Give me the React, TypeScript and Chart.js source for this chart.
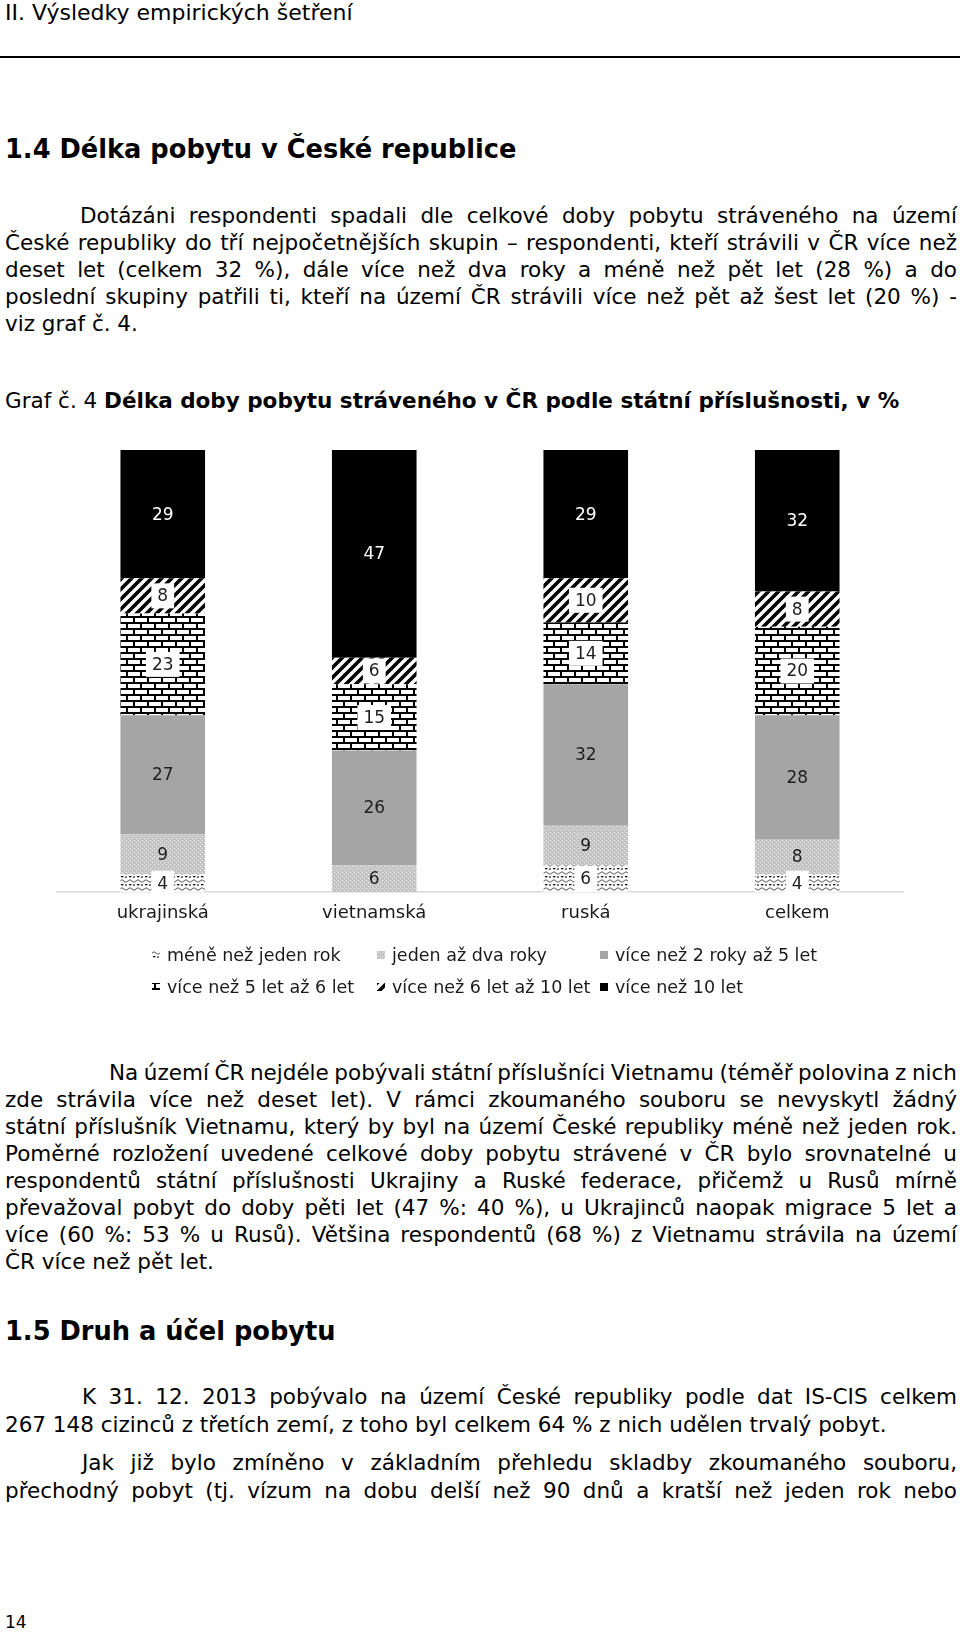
import React, { useEffect, useRef } from "react";
import { Chart, registerables } from "chart.js";
Chart.register(...registerables);

const categories = ["ukrajinská", "vietnamská", "ruská", "celkem"];
const seriesNames = [
  "méně než jeden rok",
  "jeden až dva roky",
  "více než 2 roky až 5 let",
  "více než 5 let až 6 let",
  "více než 6 let až 10 let",
  "více než 10 let",
];
const lessThanOneYear = [4, 0, 6, 4];
const oneToTwoYears = [9, 6, 9, 8];
const twoToFiveYears = [27, 26, 32, 28];
const fiveToSixYears = [23, 15, 14, 20];
const sixToTenYears = [8, 6, 10, 8];
const moreThanTenYears = [29, 47, 29, 32];
const seriesValues = [lessThanOneYear, oneToTwoYears, twoToFiveYears, fiveToSixYears, sixToTenYears, moreThanTenYears];
const boxedLabels = [true, false, false, true, true, false];

const FONT = "'DejaVu Sans', Verdana, sans-serif";
const BODY = 21.5;

function tile(w: number, h: number, draw: (c: CanvasRenderingContext2D) => void) {
  const c = document.createElement("canvas");
  c.width = w;
  c.height = h;
  const ctx = c.getContext("2d")!;
  draw(ctx);
  return c;
}

function makeFills(ctx: CanvasRenderingContext2D): (string | CanvasPattern)[] {
  const wave = tile(8, 8, (c) => {
    c.fillStyle = "#fff";
    c.fillRect(0, 0, 8, 8);
    c.strokeStyle = "#5a5a5a";
    c.lineWidth = 1;
    c.beginPath();
    c.moveTo(0, 3);
    c.quadraticCurveTo(2, 0.5, 4, 3);
    c.quadraticCurveTo(6, 5.5, 8, 3);
    c.stroke();
    c.fillStyle = "#111";
    c.fillRect(1, 6, 2.5, 1.3);
    c.fillRect(5, 6.5, 2, 1.1);
  });
  const dots = tile(4, 4, (c) => {
    c.fillStyle = "#c3c3c3";
    c.fillRect(0, 0, 4, 4);
    c.fillStyle = "#f4f4f4";
    c.fillRect(0, 0, 1, 1);
    c.fillRect(2, 2, 1, 1);
  });
  const brick = tile(14, 12, (c) => {
    c.fillStyle = "#fff";
    c.fillRect(0, 0, 14, 12);
    c.fillStyle = "#000";
    c.fillRect(0, 0, 14, 2);
    c.fillRect(0, 6, 14, 2);
    c.fillRect(0, 0, 2, 6);
    c.fillRect(7, 6, 2, 6);
  });
  const stripes = tile(10, 10, (c) => {
    c.fillStyle = "#fff";
    c.fillRect(0, 0, 10, 10);
    c.strokeStyle = "#000";
    c.lineWidth = 3.6;
    c.beginPath();
    c.moveTo(-2, 12);
    c.lineTo(12, -2);
    c.moveTo(-2, 2);
    c.lineTo(2, -2);
    c.moveTo(8, 12);
    c.lineTo(12, 8);
    c.stroke();
  });
  return [
    ctx.createPattern(wave, "repeat")!,
    ctx.createPattern(dots, "repeat")!,
    "#a5a5a5",
    ctx.createPattern(brick, "repeat")!,
    ctx.createPattern(stripes, "repeat")!,
    "#000000",
  ];
}

const labelPlugin = {
  id: "segLabels",
  afterDatasetsDraw(chart: any) {
    const ctx = chart.ctx as CanvasRenderingContext2D;
    ctx.save();
    ctx.font = `17px ${FONT}`;
    ctx.textAlign = "center";
    ctx.textBaseline = "middle";
    chart.data.datasets.forEach((ds: any, di: number) => {
      const meta = chart.getDatasetMeta(di);
      meta.data.forEach((bar: any, i: number) => {
        const v = ds.data[i];
        if (!v) return;
        const { x, y, base } = bar.getProps(["x", "y", "base"], true);
        const cy = (y + base) / 2;
        const text = String(v);
        if (boxedLabels[di]) {
          const w = ctx.measureText(text).width + 12;
          ctx.fillStyle = "#fff";
          ctx.fillRect(x - w / 2, cy - 12.5, w, 25);
        }
        ctx.fillStyle = di === 5 ? "#fff" : "#1e1e1e";
        ctx.fillText(text, x, cy + 1);
      });
    });
    ctx.restore();
  },
};

const legendCols = [152, 377, 600];
const legendRows = [525, 557];

const legendPlugin = {
  id: "gridLegend",
  afterDraw(chart: any) {
    const ctx = chart.ctx as CanvasRenderingContext2D;
    ctx.save();
    ctx.font = `17.5px ${FONT}`;
    ctx.textAlign = "left";
    ctx.textBaseline = "middle";
    chart.data.datasets.forEach((ds: any, di: number) => {
      const col = legendCols[di % 3];
      const row = legendRows[Math.floor(di / 3)];
      ctx.fillStyle = ds.backgroundColor;
      ctx.fillRect(col, row - 4, 8, 8);
      ctx.fillStyle = "#1a1a1a";
      ctx.fillText(ds.label, col + 15, row + 1);
    });
    ctx.restore();
  },
};

function StackedChart() {
  const ref = useRef<HTMLCanvasElement>(null);
  useEffect(() => {
    const canvas = ref.current!;
    const ctx = canvas.getContext("2d")!;
    const fills = makeFills(ctx);
    const chart = new Chart(canvas, {
      type: "bar",
      data: {
        labels: categories,
        datasets: seriesValues.map((vals, i) => ({
          label: seriesNames[i],
          data: vals,
          backgroundColor: fills[i] as any,
          borderWidth: 0,
          barPercentage: 0.4,
          categoryPercentage: 1,
        })),
      },
      options: {
        responsive: false,
        animation: false,
        events: [],
        layout: { padding: { left: 57, right: 57, top: 20, bottom: 78 } },
        plugins: { legend: { display: false }, tooltip: { enabled: false }, title: { display: false } },
        scales: {
          x: {
            stacked: true,
            grid: { display: false, drawTicks: false },
            border: { display: true, color: "#d9d9d9", width: 1.5 },
            ticks: { color: "#1a1a1a", font: { family: FONT, size: 18 }, padding: 11 },
            afterFit: (s: any) => {
              s.height = 40;
            },
          },
          y: { stacked: true, display: false, min: 0, max: 100 },
        },
      },
      plugins: [labelPlugin, legendPlugin],
    });
    return () => chart.destroy();
  }, []);
  return (
    <canvas
      ref={ref}
      width={960}
      height={580}
      style={{ position: "absolute", left: 0, top: 430, width: 960, height: 580, display: "block" }}
    />
  );
}

function Line(props: { y: number; x: number; text: React.ReactNode; justify?: boolean; size?: number; bold?: boolean }) {
  const size = props.size ?? BODY;
  const lh = 28;
  return (
    <div
      style={{
        position: "absolute",
        left: props.x,
        top: props.y - lh / 2,
        width: 957 - props.x,
        height: lh,
        lineHeight: `${lh}px`,
        fontSize: size,
        fontWeight: props.bold ? "bold" : "normal",
        textAlign: props.justify ? "justify" : "left",
        textAlignLast: props.justify ? "justify" : "left",
        wordSpacing: props.justify ? "-3px" : "normal",
        whiteSpace: "nowrap",
        color: "#000",
      }}
    >
      {props.text}
    </div>
  );
}

export default function App() {
  return (
    <div
      style={{
        position: "absolute",
        left: 0,
        top: 0,
        width: 960,
        height: 1633,
        overflow: "hidden",
        background: "#fff",
        fontFamily: FONT,
      }}
    >
      <Line x={5} y={13} size={22} text="II. Výsledky empirických šetření" />
      <div style={{ position: "absolute", left: 0, top: 56, width: 960, height: 2, background: "#000" }} />
      <Line x={5} y={149} size={25.7} bold text="1.4 Délka pobytu v České republice" />

      <Line x={80} y={216} justify text="Dotázáni respondenti spadali dle celkové doby pobytu stráveného na území" />
      <Line x={5} y={243} justify text="České republiky do tří nejpočetnějších skupin – respondenti, kteří strávili v ČR více než" />
      <Line x={5} y={270} justify text="deset let (celkem 32 %), dále více než dva roky a méně než pět let (28 %) a do" />
      <Line x={5} y={297} justify text="poslední skupiny patřili ti, kteří na území ČR strávili více než pět až šest let (20 %) -" />
      <Line x={5} y={324} text="viz graf č. 4." />

      <Line
        x={5}
        y={401}
        text={
          <>
            Graf č. 4 <b>Délka doby pobytu stráveného v ČR podle státní příslušnosti, v %</b>
          </>
        }
      />

      <StackedChart />

      <Line x={109} y={1073} justify text="Na území ČR nejdéle pobývali státní příslušníci Vietnamu (téměř polovina z nich" />
      <Line x={5} y={1100} justify text="zde strávila více než deset let). V rámci zkoumaného souboru se nevyskytl žádný" />
      <Line x={5} y={1127} justify text="státní příslušník Vietnamu, který by byl na území České republiky méně než jeden rok." />
      <Line x={5} y={1154} justify text="Poměrné rozložení uvedené celkové doby pobytu strávené v ČR bylo srovnatelné u" />
      <Line x={5} y={1181} justify text="respondentů státní příslušnosti Ukrajiny a Ruské federace, přičemž u Rusů mírně" />
      <Line x={5} y={1208} justify text="převažoval pobyt do doby pěti let (47 %: 40 %), u Ukrajinců naopak migrace 5 let a" />
      <Line x={5} y={1235} justify text="více (60 %: 53 % u Rusů). Většina respondentů (68 %) z Vietnamu strávila na území" />
      <Line x={5} y={1262} text="ČR více než pět let." />

      <Line x={5} y={1331} size={25.7} bold text="1.5 Druh a účel pobytu" />

      <Line x={82} y={1397} justify text="K 31. 12. 2013 pobývalo na území České republiky podle dat IS-CIS celkem" />
      <Line x={5} y={1425} text="267 148 cizinců z třetích zemí, z toho byl celkem 64 % z nich udělen trvalý pobyt." />
      <Line x={82} y={1463} justify text="Jak již bylo zmíněno v základním přehledu skladby zkoumaného souboru," />
      <Line x={5} y={1491} justify text="přechodný pobyt (tj. vízum na dobu delší než 90 dnů a kratší než jeden rok nebo" />

      <Line x={5} y={1622} size={17} text="14" />
    </div>
  );
}
